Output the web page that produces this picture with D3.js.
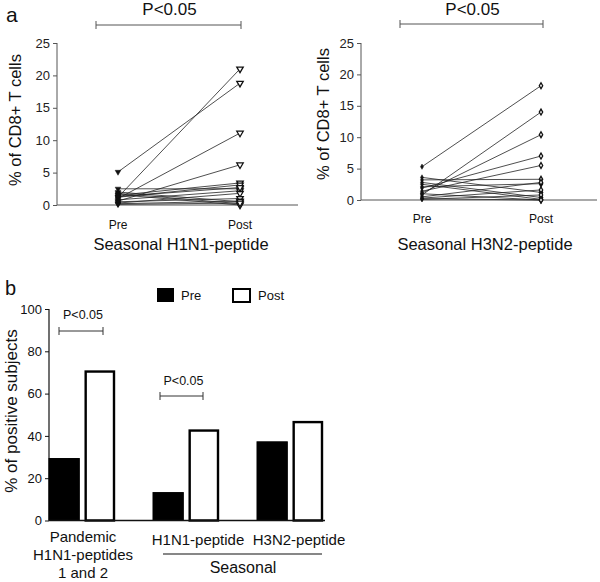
<!DOCTYPE html>
<html><head><meta charset="utf-8">
<script src="https://cdn.jsdelivr.net/npm/d3@7"></script>
<style>body{margin:0;background:#fff}svg{font-family:"Liberation Sans",Arial,Helvetica,sans-serif}</style>
</head><body><svg id="c" width="600" height="582"></svg>
<script>
// ---- Panel a data ----
const prePostLabels = ["Pre", "Post"];
const h1n1Pre  = [5.1, 1.2, 1.0, 0.6, 2.5, 1.5, 1.2, 0.8, 2.0, 1.8, 0.3, 0.5, 1.6, 0.2, 0.1, 1.3];
const h1n1Post = [18.8, 21.0, 11.1, 6.2, 2.5, 3.4, 3.1, 2.2, 0.5, 0.2, 1.8, 1.0, 0.0, 0.6, 0.3, 2.7];
const h3n2Pre  = [5.3, 0.8, 1.1, 1.9, 1.4, 3.6, 3.2, 2.8, 2.5, 2.1, 0.5, 0.3, 0.1, 0.2, 1.0];
const h3n2Post = [18.2, 14.0, 10.4, 7.0, 5.5, 1.2, 3.3, 0.4, 0.1, 2.6, 2.8, 1.6, 0.8, 0.0, 0.0];
const aTicks = [0, 5, 10, 15, 20, 25];
// ---- Panel b data ----
const bGroups = ["Pandemic", "H1N1", "H3N2"];
const bSeries = ["Pre", "Post"];
const bPre  = [29.3, 13.2, 37.2];
const bPost = [70.9, 43.0, 47.0];
const bTicks = [0, 20, 40, 60, 80, 100];

const svg = d3.select("#c");
const axisGray = "#555";

function drawPanelA(o) {
  const g = svg.append("g");
  const y = d3.scaleLinear().domain([0, 25]).range([o.y0, o.y25]);
  const x = d3.scalePoint().domain(prePostLabels).range([o.xPre, o.xPost]);
  const ya = g.append("g").attr("transform", `translate(${o.ax},0)`)
    .call(d3.axisLeft(y).tickValues(aTicks).tickSize(4).tickPadding(3));
  ya.select(".domain").attr("stroke", axisGray).attr("d", `M-0,${o.y25}V${o.y0}`);
  ya.selectAll(".tick line").attr("stroke", axisGray);
  ya.selectAll("text").attr("font-size", 13).attr("fill", "#222").attr("font-family", "Liberation Sans, Arial, sans-serif");
  g.append("line").attr("x1", o.ax).attr("x2", o.axEnd).attr("y1", o.y0).attr("y2", o.y0).attr("stroke", axisGray);
  g.selectAll(".pp").data(prePostLabels).join("text")
    .attr("x", d => x(d)).attr("y", o.ppY).attr("text-anchor", "middle").attr("font-size", 12).attr("fill", "#111").text(d => d);
  g.append("text").attr("x", o.titleX).attr("y", 250).attr("text-anchor", "middle").attr("font-size", 16.5).attr("fill", "#111").text(o.title);
  g.append("text").attr("transform", `translate(${o.ytX},${o.ytY}) rotate(-90)`).attr("text-anchor", "middle")
    .attr("font-size", 16.5).attr("fill", "#111").text("% of CD8+ T cells");
  g.append("path").attr("d", `M${o.bx1},${o.by - 4}V${o.by + 4}M${o.bx1},${o.by}H${o.bx2}M${o.bx2},${o.by - 4}V${o.by + 4}`)
    .attr("stroke", axisGray).attr("fill", "none");
  g.append("text").attr("x", (o.bx1 + o.bx2) / 2 + 1).attr("y", 15).attr("text-anchor", "middle").attr("font-size", 17).attr("fill", "#111").text("P<0.05");
  const pairs = o.pre.map((p, i) => [p, o.post[i]]);
  g.selectAll(".ln").data(pairs).join("line")
    .attr("x1", x("Pre")).attr("x2", x("Post")).attr("y1", d => y(d[0])).attr("y2", d => y(d[1]))
    .attr("stroke", "#222").attr("stroke-width", 0.8);
  const symPre = d3.symbol().type(o.symType).size(o.preSize);
  const symPost = d3.symbol().type(o.symType).size(o.postSize);
  g.selectAll(".pm").data(o.pre).join("path")
    .attr("transform", d => `translate(${x("Pre")},${y(d)})` + (o.flip ? " rotate(180)" : ""))
    .attr("d", symPre).attr("fill", "#111").attr("stroke", "#111").attr("stroke-width", 0.5);
  g.selectAll(".qm").data(o.post).join("path")
    .attr("transform", d => `translate(${x("Post")},${y(d)})` + (o.flip ? " rotate(180)" : ""))
    .attr("d", symPost).attr("fill", "#fff").attr("stroke", "#111").attr("stroke-width", 1.3);
}

drawPanelA({ax: 57, axEnd: 298, y0: 205, y25: 43, xPre: 118, xPost: 240, ppY: 229, title: "Seasonal H1N1-peptide", titleX: 181,
  ytX: 21, ytY: 120, bx1: 96, bx2: 241, by: 25, pre: h1n1Pre, post: h1n1Post, symType: d3.symbolTriangle, preSize: 14, postSize: 18, flip: true});
drawPanelA({ax: 361, axEnd: 597, y0: 200, y25: 43, xPre: 422, xPost: 541, ppY: 223, title: "Seasonal H3N2-peptide", titleX: 485,
  ytX: 329, ytY: 114, bx1: 400, bx2: 543, by: 24, pre: h3n2Pre, post: h3n2Post, symType: d3.symbolDiamond, preSize: 8, postSize: 10, flip: false});

svg.append("text").attr("x", 6).attr("y", 22).attr("font-size", 21).attr("fill", "#111").text("a");

// ---- Panel b ----
const gb = svg.append("g");
const yb = d3.scaleLinear().domain([0, 100]).range([520.5, 309]);
const x0 = d3.scaleBand().domain(bGroups).range([30, 342]).padding(0);
const x1 = d3.scaleBand().domain(bSeries).range([19, 85]).paddingInner(0.15);
const yab = gb.append("g").attr("transform", "translate(49,0)")
  .call(d3.axisLeft(yb).tickValues(bTicks).tickSize(4).tickPadding(3));
yab.select(".domain").attr("d", "M0,309V520.5").attr("stroke", "#111").attr("stroke-width", 1.2);
yab.selectAll(".tick line").attr("stroke", "#111");
yab.selectAll("text").attr("font-size", 13).attr("fill", "#111").attr("font-family", "Liberation Sans, Arial, sans-serif");

const rows = bGroups.map((gname, i) => ({g: gname, vals: [{s: "Pre", v: bPre[i]}, {s: "Post", v: bPost[i]}]}));
gb.selectAll(".grp").data(rows).join("g").attr("transform", d => `translate(${x0(d.g)},0)`)
  .selectAll("rect").data(d => d.vals).join("rect")
  .attr("x", d => x1(d.s) + (d.s === "Post" ? 1 : 0)).attr("width", d => x1.bandwidth() - (d.s === "Post" ? 2 : 0))
  .attr("y", d => yb(d.v) + (d.s === "Post" ? 1 : 0)).attr("height", d => yb(0) - yb(d.v) - (d.s === "Post" ? 1 : 0))
  .attr("fill", d => d.s === "Pre" ? "#000" : "#fff").attr("stroke", "#000").attr("stroke-width", d => d.s === "Post" ? 2.4 : 1);
gb.append("line").attr("x1", 49).attr("x2", 325).attr("y1", 520.5).attr("y2", 520.5).attr("stroke", "#111").attr("stroke-width", 1.4);

gb.append("rect").attr("x", 157).attr("y", 288).attr("width", 17).attr("height", 14).attr("fill", "#000");
gb.append("text").attr("x", 181).attr("y", 300).attr("font-size", 13).attr("fill", "#111").text("Pre");
gb.append("rect").attr("x", 233).attr("y", 289).attr("width", 17).attr("height", 13).attr("fill", "#fff").attr("stroke", "#000").attr("stroke-width", 2);
gb.append("text").attr("x", 258).attr("y", 300).attr("font-size", 13).attr("fill", "#111").text("Post");

function bracket(x1p, x2p, yy, ty) {
  gb.append("path").attr("d", `M${x1p},${yy - 4}V${yy + 4}M${x1p},${yy}H${x2p}M${x2p},${yy - 4}V${yy + 4}`).attr("stroke", "#333").attr("fill", "none");
  gb.append("text").attr("x", (x1p + x2p) / 2 + 2).attr("y", ty).attr("text-anchor", "middle").attr("font-size", 12.5).attr("fill", "#111").text("P<0.05");
}
bracket(59, 103, 331, 319);
bracket(160, 203, 396, 385);

const lab = (t, xx, yy, fs) => gb.append("text").attr("x", xx).attr("y", yy).attr("text-anchor", "middle").attr("font-size", fs).attr("fill", "#111").text(t);
lab("Pandemic", 83, 542, 15);
lab("H1N1-peptides", 83, 560, 15);
lab("1 and 2", 83, 578, 15);
lab("H1N1-peptide", 198, 545, 15);
lab("H3N2-peptide", 299, 545, 15);
gb.append("line").attr("x1", 163).attr("x2", 322).attr("y1", 554).attr("y2", 554).attr("stroke", "#111").attr("stroke-width", 1.2);
lab("Seasonal", 243, 573, 16);
gb.append("text").attr("transform", "translate(17,411) rotate(-90)").attr("text-anchor", "middle").attr("font-size", 17).attr("fill", "#111").text("% of positive subjects");
svg.append("text").attr("x", 5).attr("y", 295).attr("font-size", 20).attr("fill", "#111").text("b");
</script></body></html>
